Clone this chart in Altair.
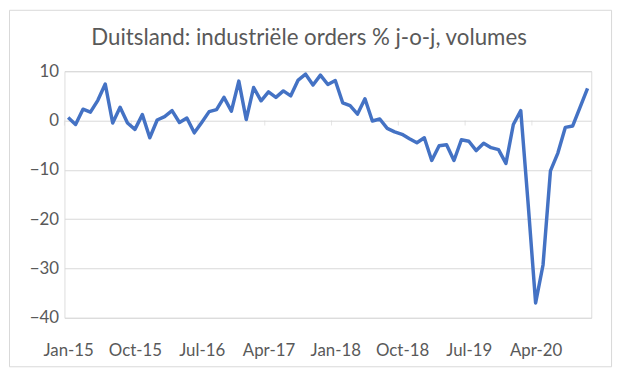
import json
import altair as alt
import pandas as pd

title = "Duitsland: industriële orders % j-o-j, volumes"

values = [0.6, -0.8, 2.3, 1.7, 4.1, 7.4, -0.5, 2.7, -0.5, -1.8, 1.2, -3.5,
          0.1, 0.8, 2.0, -0.4, 0.5, -2.5, -0.4, 1.8, 2.2, 4.7, 1.9, 8.0,
          0.2, 6.7, 4.0, 5.8, 4.7, 6.0, 5.0, 8.2, 9.4, 7.2, 9.2, 7.3,
          8.1, 3.6, 3.0, 1.3, 4.4, -0.1, 0.3, -1.6, -2.3, -2.8, -3.7, -4.5,
          -3.5, -8.1, -5.1, -4.9, -8.1, -3.9, -4.2, -6.1, -4.6, -5.5, -5.9, -8.7,
          -0.8, 2.0, -17.0, -37.0, -29.3, -10.2, -6.6, -1.4, -1.1, 2.7, 6.5]

tick_labels = ["Jan-15", "Oct-15", "Jul-16", "Apr-17", "Jan-18", "Oct-18", "Jul-19", "Apr-20"]
tick_pos = [0, 9, 18, 27, 36, 45, 54, 63]
y_ticks = [-40, -30, -20, -10, 0, 10]

df = pd.DataFrame({"idx": list(range(len(values))), "value": values})
ticks_df = pd.DataFrame({"b": [p - 0.5 for p in tick_pos], "zero": [0] * len(tick_pos)})

n = len(values)
W, H = 532, 249
PL, PT, PR, PB = 57, 62, 26, 60
FONT = "Lato"
TXT = "#595959"
GRID = "#D9D9D9"

label_expr = f"{json.dumps(tick_labels)}[indexof({json.dumps(tick_pos)}, datum.value)]"

xscale = alt.Scale(domain=[-0.5, n - 0.5], nice=False, zero=False)
yscale = alt.Scale(domain=[-40, 10], nice=False)

one = pd.DataFrame({"t": [title]})

frame = alt.Chart(one).mark_rect(
    fill=None, stroke=GRID, strokeWidth=1, clip=False
).encode(
    x=alt.value(-PL + 1.5), x2=alt.value(552.5),
    y=alt.value(-PT + 0.5), y2=alt.value(298.5)
)

title_mark = alt.Chart(one).mark_text(
    font=FONT, fontSize=22.5, color=TXT, align="center", baseline="middle"
).encode(
    text="t:N", x=alt.value(247), y=alt.value(-33)
)

line = alt.Chart(df).mark_line(color="#4472C4", strokeWidth=3.5, strokeJoin="round").encode(
    x=alt.X("idx:Q", scale=xscale,
            axis=alt.Axis(values=tick_pos, labelExpr=label_expr, title=None,
                          grid=False, ticks=False, domain=False,
                          labelFont=FONT, labelFontSize=17, labelColor=TXT,
                          labelPadding=25, labelOverlap=False)),
    y=alt.Y("value:Q", scale=yscale,
            axis=alt.Axis(values=y_ticks, title=None, grid=True, gridColor=GRID,
                          gridWidth=1, ticks=False, domain=False,
                          labelFont=FONT, labelFontSize=17, labelColor=TXT,
                          labelPadding=6)),
)

tick_marks = alt.Chart(ticks_df).mark_tick(
    color=GRID, thickness=1, size=5, orient="vertical", yOffset=2.5
).encode(
    x=alt.X("b:Q", scale=xscale),
    y=alt.Y("zero:Q", scale=yscale),
)

chart = alt.layer(frame, title_mark, tick_marks, line).properties(
    width=W, height=H,
    autosize=alt.AutoSizeParams(type="none"),
    padding={"left": PL, "top": PT, "right": PR, "bottom": PB},
).configure_view(stroke=None).configure(background="white")

chart.save("out.html", embed_options={"renderer": "svg", "actions": False})
